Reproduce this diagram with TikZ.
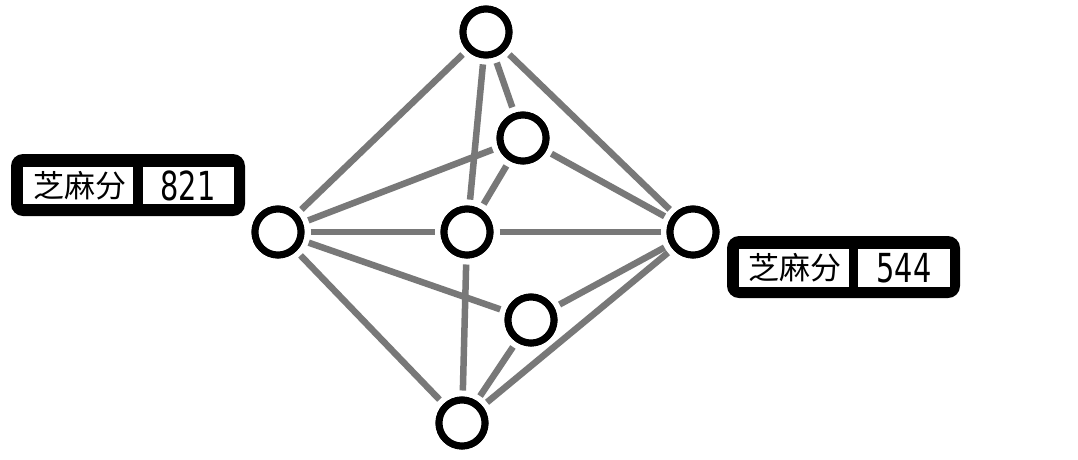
\documentclass[tikz,border=0pt]{standalone}
\usepackage{fontspec}
\newfontfamily\cjk{Noto Sans CJK SC}
\newfontfamily\numf{DejaVu Sans}
\begin{document}
\begin{tikzpicture}[x=1pt,y=-1pt,
  vert/.style={circle,draw=black,line width=7pt,fill=white,minimum size=46pt,inner sep=0pt},
  edge/.style={draw=black!53,line width=6.5pt,shorten <=6pt,shorten >=6pt},
  outerbox/.style={fill=black,rounded corners=12pt},
  innerbox/.style={fill=white},
  cjklab/.style={font=\cjk\fontsize{31}{31}\selectfont,inner sep=0pt},
  numlab/.style={font=\numf\fontsize{40}{40}\selectfont,inner sep=0pt}
]
\useasboundingbox (0,0) rectangle (1078,459);
\fill[white] (0,0) rectangle (1078,459);

% vertices
\node[vert] (T) at (486,32) {};
\node[vert] (U) at (523,138) {};
\node[vert] (L) at (278,232) {};
\node[vert] (C) at (467,232) {};
\node[vert] (R) at (693,232) {};
\node[vert] (D) at (531,320) {};
\node[vert] (B) at (462,423) {};

% edges
\foreach \a/\b in {L/T,L/U,L/C,L/D,L/B,T/C,T/U,T/R,U/C,U/R,C/R,C/B,D/R,D/B,B/R}
  \draw[edge] (\a) -- (\b);
% redraw vertices on top
\node[vert] at (486,32) {};
\node[vert] at (523,138) {};
\node[vert] at (278,232) {};
\node[vert] at (467,232) {};
\node[vert] at (693,232) {};
\node[vert] at (531,320) {};
\node[vert] at (462,423) {};

% left label
\fill[outerbox] (11,154) rectangle (245,216);
\fill[innerbox] (23,167) rectangle (133,204);
\fill[innerbox] (143,167) rectangle (234,204);
\node[cjklab] (lt) at (80,185.5) {芝麻分};
\node[numlab] (ln) at (188,185.5) {\scalebox{0.72}[1]{821}};

% right label
\fill[outerbox] (727,236) rectangle (960,298);
\fill[innerbox] (739,249) rectangle (849,287);
\fill[innerbox] (858,249) rectangle (950,287);
\node[cjklab] (rt) at (795,268) {芝麻分};
\node[numlab] (rn) at (904,268) {\scalebox{0.72}[1]{544}};
\end{tikzpicture}
\end{document}
